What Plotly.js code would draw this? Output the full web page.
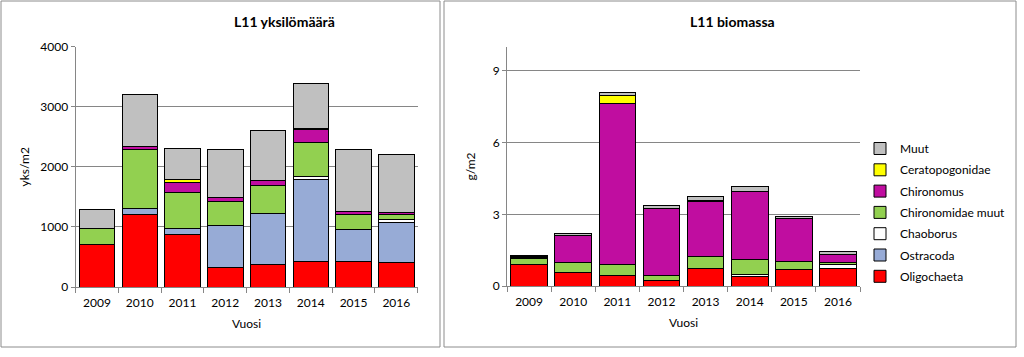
<!DOCTYPE html>
<html>
<head>
<meta charset="utf-8">
<script src="https://cdn.plot.ly/plotly-3.0.1.min.js"></script>
<style>html,body{margin:0;padding:0;background:#fff;}#chart{width:1024px;height:357px;}</style>
</head>
<body>
<div id="chart"></div>
<script>
// ---- data ----
const years = ["2009","2010","2011","2012","2013","2014","2015","2016"];
const seriesNames = ["Oligochaeta","Ostracoda","Chaoborus","Chironomidae muut","Chironomus","Ceratopogonidae","Muut"];
const seriesColors = ["#FF0000","#97ABD6","#FFFFFF","#92D050","#C00DA0","#FFFF00","#C0C0C0"];

// L11 yksilömäärä (yks/m2)
const countOligochaeta     = [710,1205,880,330,380,430,430,415];
const countOstracoda       = [0,95,95,700,840,1355,525,655];
const countChaoborus       = [0,0,0,0,0,55,0,45];
const countChironomidaeMuut= [265,985,600,390,460,570,250,85];
const countChironomus      = [0,45,160,70,95,205,45,40];
const countCeratopogonidae = [0,0,55,0,0,15,0,0];
const countMuut            = [310,880,515,800,825,760,1035,970];

// L11 biomassa (g/m2)
const bioOligochaeta     = [0.90,0.58,0.44,0.21,0.74,0.39,0.69,0.74];
const bioOstracoda       = [0,0,0,0,0,0,0,0];
const bioChaoborus       = [0,0,0,0,0,0.10,0,0.16];
const bioChironomidaeMuut= [0.27,0.42,0.48,0.25,0.51,0.62,0.34,0.07];
const bioChironomus      = [0.01,1.13,6.73,2.78,2.29,2.85,1.79,0.35];
const bioCeratopogonidae = [0.07,0,0.33,0,0.03,0,0,0];
const bioMuut            = [0.03,0.06,0.12,0.12,0.17,0.22,0.08,0.12];

const countSeries = [countOligochaeta,countOstracoda,countChaoborus,countChironomidaeMuut,countChironomus,countCeratopogonidae,countMuut];
const bioSeries = [bioOligochaeta,bioOstracoda,bioChaoborus,bioChironomidaeMuut,bioChironomus,bioCeratopogonidae,bioMuut];

const FONT = "Lato, 'Liberation Sans', sans-serif";
const W = 1024, H = 357;
const px = v => v / W;
const py = v => 1 - v / H;

const traces = [];
countSeries.forEach((vals, i) => {
  traces.push({
    type: "bar", x: years, y: vals, name: seriesNames[i],
    xaxis: "x", yaxis: "y", showlegend: false, legendgroup: seriesNames[i],
    legendrank: 100 - i,
    marker: {color: seriesColors[i], line: {color: "#000", width: 1}},
    hoverinfo: "x+y+name"
  });
});
bioSeries.forEach((vals, i) => {
  traces.push({
    type: "bar", x: years, y: vals, name: seriesNames[i],
    xaxis: "x2", yaxis: "y2", showlegend: true, legendgroup: seriesNames[i],
    legendrank: 100 - i,
    marker: {color: seriesColors[i], line: {color: "#000", width: 1}},
    hoverinfo: "x+y+name"
  });
});

const gridC = "#868686";
const tickFont = {family: FONT, size: 12, color: "#000"};
const axisTitleFont = {family: FONT, size: 12, color: "#000"};

const xCommon = {
  type: "category", showgrid: false, showline: true, linecolor: gridC, linewidth: 1,
  ticks: "outside", tickson: "boundaries", ticklen: 5, tickcolor: gridC,
  ticklabelstandoff: 5,
  tickfont: tickFont, fixedrange: true, automargin: false
};
const yCommon = {
  showgrid: true, gridcolor: gridC, gridwidth: 1, showline: true, linecolor: gridC, linewidth: 1,
  ticks: "outside", ticklen: 4, tickcolor: gridC, tickfont: tickFont, zeroline: false,
  fixedrange: true, automargin: false
};

const layout = {
  width: W, height: H,
  margin: {l: 0, r: 0, t: 0, b: 0},
  paper_bgcolor: "#fff", plot_bgcolor: "rgba(0,0,0,0)",
  barmode: "stack", bargap: 0.17,
  font: {family: FONT, color: "#000"},
  xaxis: Object.assign({}, xCommon, {domain: [px(75.6), px(417.7)], anchor: "y",
    title: {text: "Vuosi", font: axisTitleFont, standoff: 10}}),
  yaxis: Object.assign({}, yCommon, {domain: [py(287), py(46.5)], anchor: "x",
    range: [0, 4000], dtick: 1000,
    title: {text: "yks/m2", font: axisTitleFont, standoff: 8}}),
  xaxis2: Object.assign({}, xCommon, {domain: [px(507), px(860)], anchor: "y2",
    title: {text: "Vuosi", font: axisTitleFont, standoff: 10}}),
  yaxis2: Object.assign({}, yCommon, {domain: [py(286), py(47)], anchor: "x2",
    range: [0, 10], dtick: 3, tick0: 0,
    title: {text: "g/m2", font: axisTitleFont, standoff: 14}}),
  legend: {
    x: px(860), y: py(134), xanchor: "left", yanchor: "top",
    traceorder: "grouped", tracegroupgap: 2.3,
    font: {family: FONT, size: 12, color: "#000"},
    bgcolor: "rgba(0,0,0,0)", itemclick: false, itemdoubleclick: false
  },
  shapes: [
    {type: "rect", xref: "paper", yref: "paper", x0: px(1), x1: px(440), y0: py(347), y1: py(1),
     line: {color: "#8c8c8c", width: 1}, fillcolor: "rgba(0,0,0,0)", layer: "below"},
    {type: "rect", xref: "paper", yref: "paper", x0: px(444), x1: px(1016), y0: py(347), y1: py(1),
     line: {color: "#8c8c8c", width: 1}, fillcolor: "rgba(0,0,0,0)", layer: "below"}
  ],
  annotations: [
    {text: "<b>L11 yksilömäärä</b>", xref: "paper", yref: "paper", x: px(284), y: py(21),
     xanchor: "center", yanchor: "middle", showarrow: false, font: {family: FONT, size: 14, color: "#000"}},
    {text: "<b>L11 biomassa</b>", xref: "paper", yref: "paper", x: px(732), y: py(21),
     xanchor: "center", yanchor: "middle", showarrow: false, font: {family: FONT, size: 14, color: "#000"}}
  ]
};

Plotly.newPlot("chart", traces, layout, {displayModeBar: false, staticPlot: false});
</script>
</body>
</html>
